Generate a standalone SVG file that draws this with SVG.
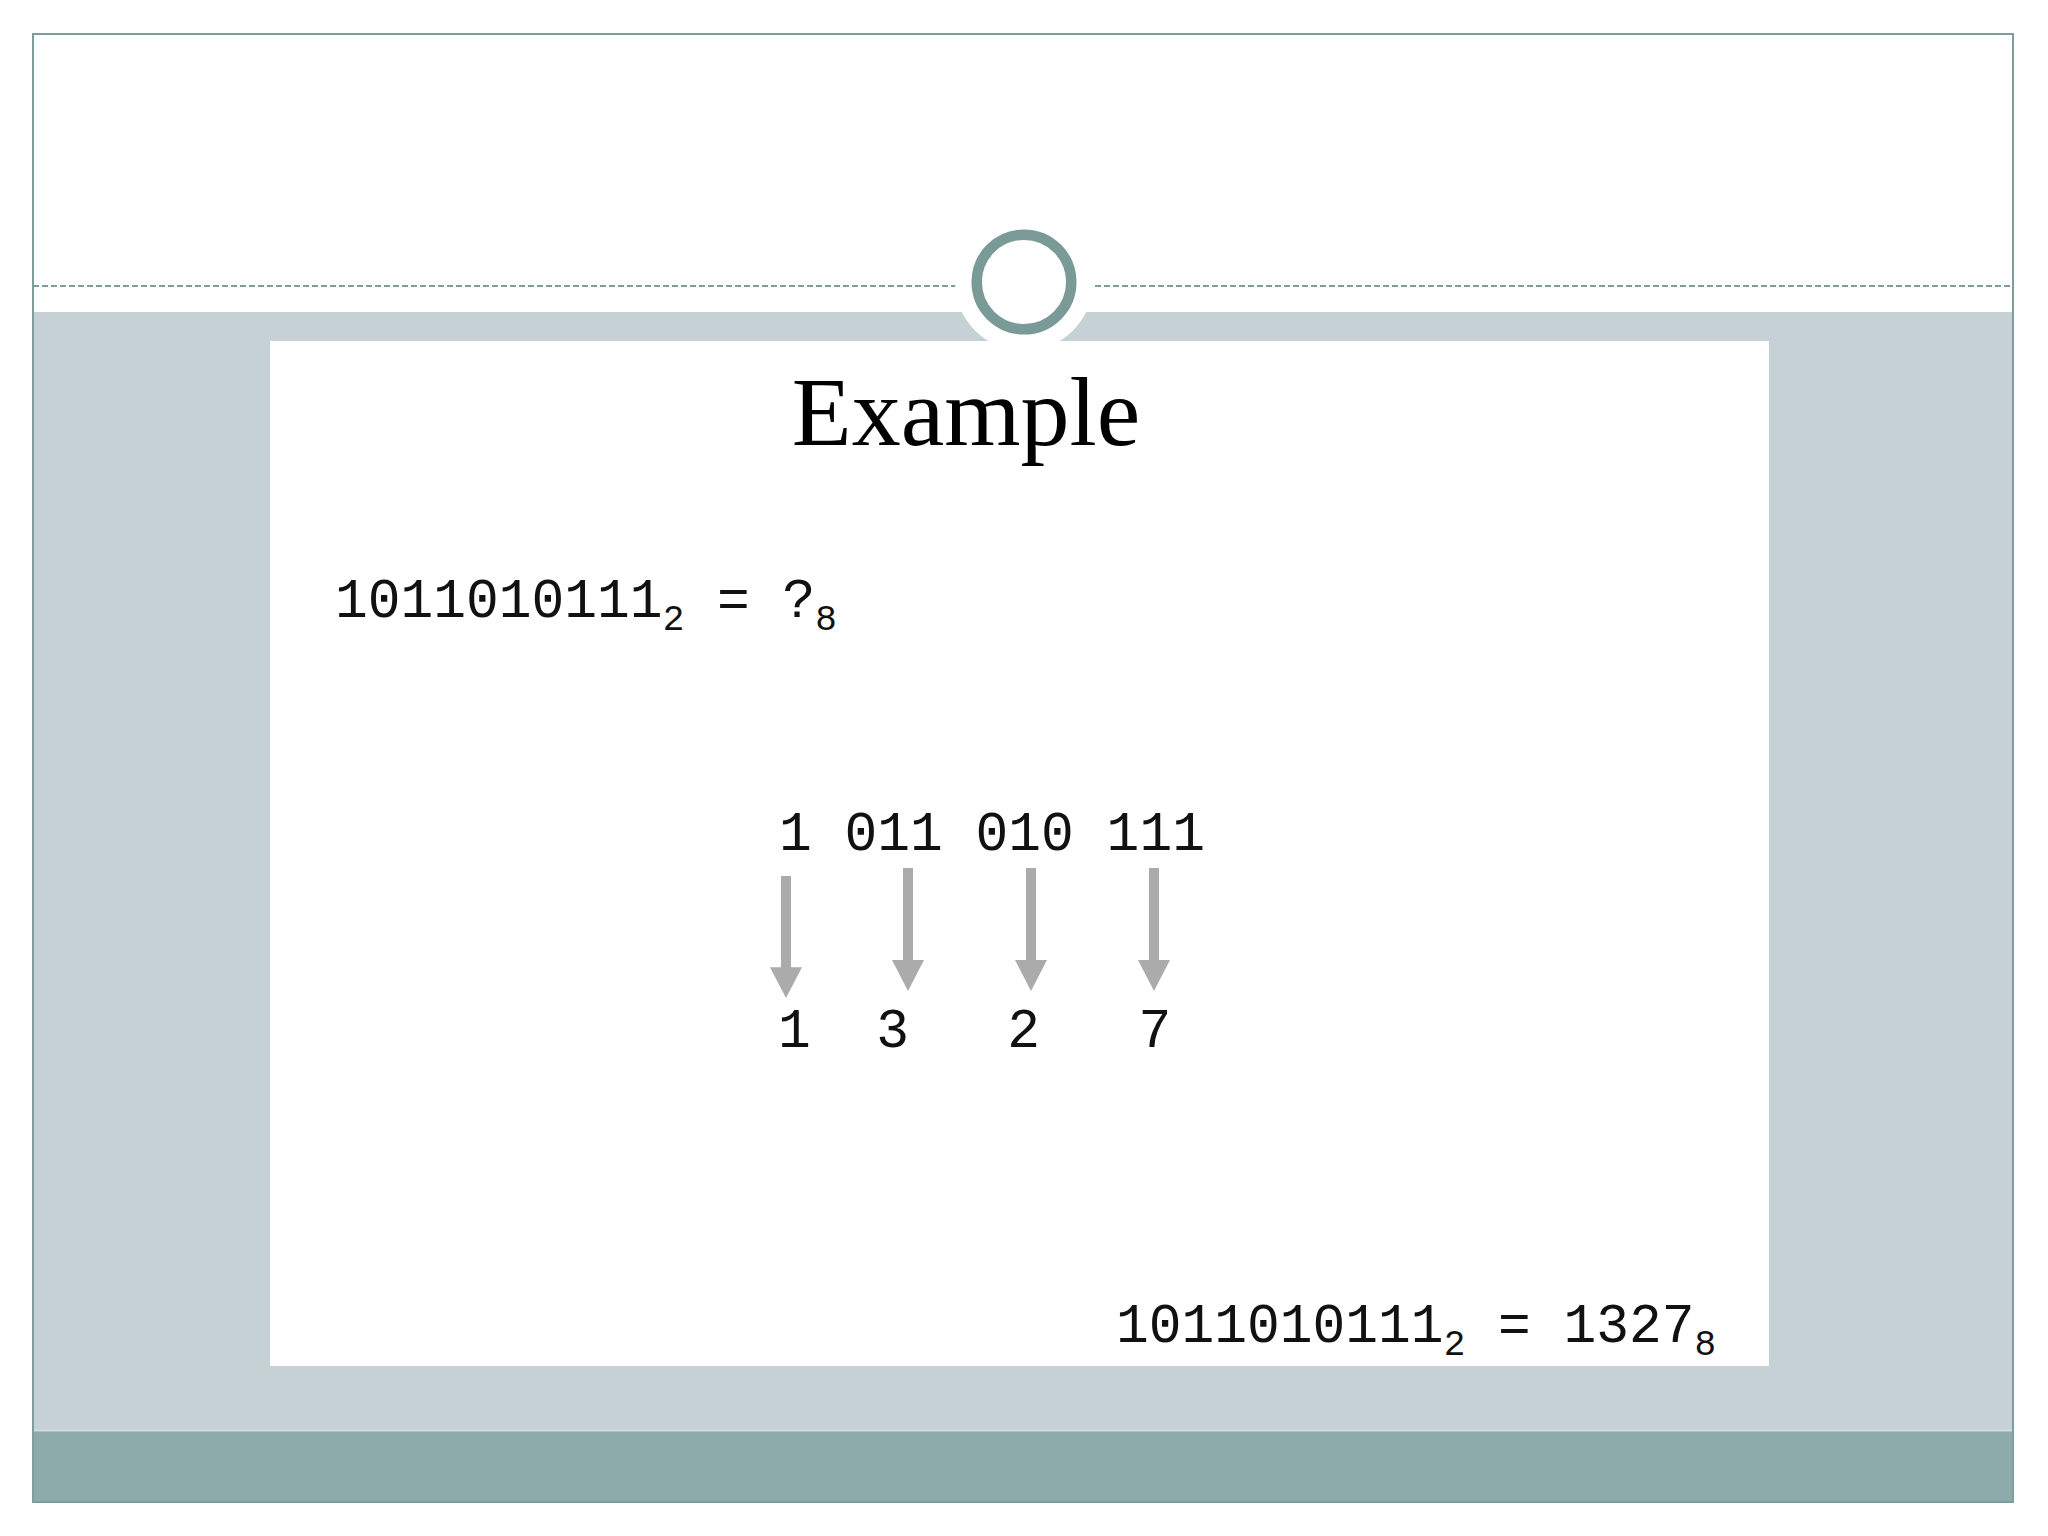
<svg xmlns="http://www.w3.org/2000/svg" width="2048" height="1536" viewBox="0 0 2048 1536">
  <style>
    .mono { font-family: "Liberation Mono", "Courier New", monospace; font-size: 54.6px; fill: #111; white-space: pre; }
    .sub { font-size: 36px; }
    .title { font-family: "Liberation Serif", "Times New Roman", serif; font-size: 98px; fill: #000; }
    .arrow { fill: #ABABAB; }
  </style>
  <defs>
    <polygon id="arr" points="-5,0 5,0 5,92 16,92 0,123 -16,92 -5,92"/>
  </defs>
  <rect x="0" y="0" width="2048" height="1536" fill="#FFFFFF"/>
  <g id="frame">
    <rect x="33" y="312" width="1980" height="1118" fill="#C6D1D6"/>
    <rect x="33" y="1430" width="1980" height="72" fill="#8DABAB"/>
    <line x1="33" y1="1430.5" x2="2013" y2="1430.5" stroke="#D3DCDD" stroke-width="2"/>
    <line x1="33" y1="286" x2="2013" y2="286" stroke="#7F9D9A" stroke-width="2" stroke-dasharray="6 3"/>
    <circle cx="1024" cy="282" r="69" fill="#FFFFFF"/>
    <rect x="33" y="34" width="1980" height="1468" fill="none" stroke="#7F9D9A" stroke-width="2"/>
    <circle cx="1024" cy="282" r="47.3" fill="#FFFFFF" stroke="#7A9A98" stroke-width="10.5"/>
  </g>
  <g id="panel">
    <rect x="270" y="341" width="1499" height="1025" fill="#FFFFFF"/>
  </g>
  <g id="title">
    <text class="title" x="966" y="445" text-anchor="middle">Example</text>
  </g>
  <g id="question">
    <text class="mono" x="335" y="617">1011010111<tspan class="sub" dy="13">2</tspan><tspan dy="-13"> = ?</tspan><tspan class="sub" dy="13">8</tspan></text>
  </g>
  <g id="groups">
    <text class="mono" x="779" y="850">1 011 010 111</text>
  </g>
  <g id="digits">
    <text class="mono" x="778" y="1047">1  3   2   7</text>
  </g>
  <g id="answer">
    <text class="mono" x="1116" y="1342">1011010111<tspan class="sub" dy="13">2</tspan><tspan dy="-13"> = 1327</tspan><tspan class="sub" dy="13">8</tspan></text>
  </g>
  <g id="connectors">
    <use href="#arr" class="arrow" transform="translate(786,876) scale(1,0.992)"/>
    <use href="#arr" class="arrow" transform="translate(908,868)"/>
    <use href="#arr" class="arrow" transform="translate(1031,868)"/>
    <use href="#arr" class="arrow" transform="translate(1154,868)"/>
  </g>
</svg>
